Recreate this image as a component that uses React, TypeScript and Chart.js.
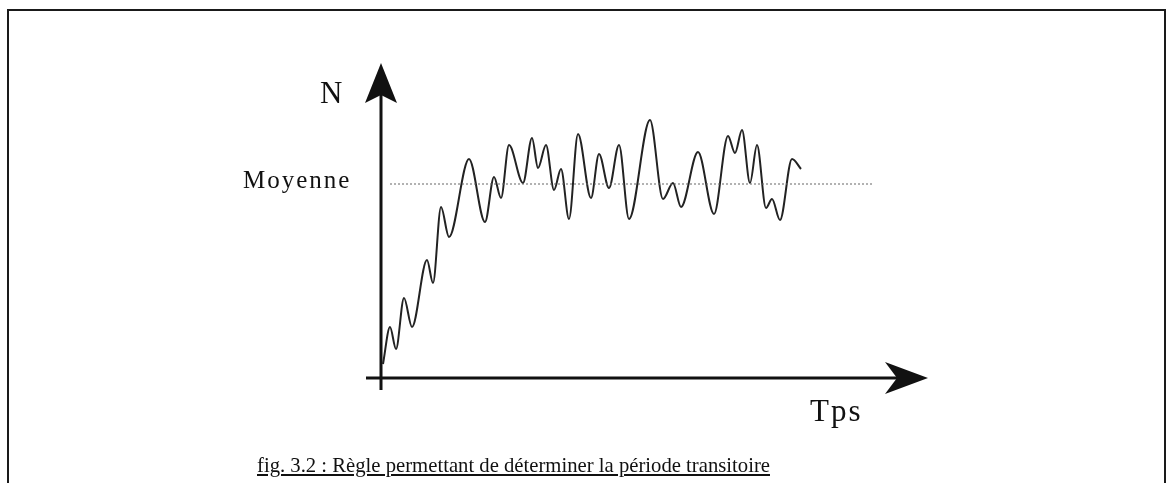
import React, { useEffect, useRef } from "react";
import { Chart, registerables } from "chart.js";

Chart.register(...registerables);

const timeValues = [2, 9, 15, 23, 31, 46, 52, 60, 68, 88, 104, 113, 120, 128, 142, 151, 157, 165, 173, 180, 188, 197, 210, 218, 228, 238, 248, 269, 282, 292, 300, 317, 333, 347, 354, 361, 369, 376, 385, 391, 399, 411, 420];
const nValues = [14, 51, 29, 80, 51, 118, 95, 171, 141, 219, 156, 201, 180, 233, 195, 240, 210, 233, 188, 209, 159, 244, 180, 224, 190, 233, 159, 258, 179, 195, 171, 226, 164, 242, 225, 248, 195, 233, 170, 179, 158, 219, 209];

// Mean level ("Moyenne") and its horizontal extent
const meanValue = 194;
const meanSpan = [9, 492];

// Axis ranges
const xMax = 547;
const yMax = 315;

const texts = {
  yLabel: "N",
  meanLabel: "Moyenne",
  xLabel: "Tps",
  caption: "fig. 3.2 : Règle permettant de déterminer la période transitoire",
};

const axesPlugin = {
  id: "arrowAxes",
  afterDatasetsDraw(chart: any) {
    const { ctx, scales } = chart;
    const xs = scales.x;
    const ys = scales.y;
    const x0 = xs.getPixelForValue(0);
    const y0 = ys.getPixelForValue(0);
    const xTip = xs.getPixelForValue(xMax);
    const yTip = ys.getPixelForValue(yMax);
    ctx.save();
    ctx.strokeStyle = "#111";
    ctx.fillStyle = "#111";
    ctx.lineWidth = 3;
    // vertical axis
    ctx.beginPath();
    ctx.moveTo(x0, y0 + 12);
    ctx.lineTo(x0, yTip + 30);
    ctx.stroke();
    // horizontal axis
    ctx.beginPath();
    ctx.moveTo(x0 - 15, y0);
    ctx.lineTo(xTip - 30, y0);
    ctx.stroke();
    // vertical arrowhead
    ctx.beginPath();
    ctx.moveTo(x0, yTip);
    ctx.lineTo(x0 + 16, yTip + 40);
    ctx.lineTo(x0, yTip + 32);
    ctx.lineTo(x0 - 16, yTip + 40);
    ctx.closePath();
    ctx.fill();
    // horizontal arrowhead
    ctx.beginPath();
    ctx.moveTo(xTip, y0);
    ctx.lineTo(xTip - 43, y0 - 16);
    ctx.lineTo(xTip - 31, y0);
    ctx.lineTo(xTip - 43, y0 + 16);
    ctx.closePath();
    ctx.fill();
    ctx.restore();
  },
};

export default function App() {
  const canvasRef = useRef<HTMLCanvasElement | null>(null);

  useEffect(() => {
    if (!canvasRef.current) return;
    const curve = timeValues.map((t, i) => ({ x: t, y: nValues[i] }));
    const mean = meanSpan.map((t) => ({ x: t, y: meanValue }));
    const chart = new Chart(canvasRef.current, {
      type: "line",
      data: {
        datasets: [
          {
            data: mean,
            borderColor: "#666",
            borderWidth: 1,
            borderDash: [2, 2],
            pointRadius: 0,
            fill: false,
          },
          {
            data: curve,
            borderColor: "#222",
            borderWidth: 2,
            pointRadius: 0,
            cubicInterpolationMode: "monotone",
            fill: false,
          },
        ],
      },
      options: {
        animation: false,
        responsive: false,
        maintainAspectRatio: false,
        events: [],
        layout: { padding: { left: 381, right: 1171 - 928, top: 63, bottom: 483 - 378 } },
        plugins: { legend: { display: false }, tooltip: { enabled: false }, title: { display: false } },
        scales: {
          x: { type: "linear", min: 0, max: xMax, display: false },
          y: { type: "linear", min: 0, max: yMax, display: false },
        },
      },
      plugins: [axesPlugin],
    });
    return () => chart.destroy();
  }, []);

  const serif = '"Liberation Serif", "Times New Roman", serif';
  const abs = (left: number, top: number, size: number, extra: React.CSSProperties = {}): React.CSSProperties => ({
    position: "absolute",
    left,
    top,
    fontFamily: serif,
    fontSize: size,
    lineHeight: 1,
    color: "#111",
    whiteSpace: "nowrap",
    ...extra,
  });

  return (
    <div style={{ position: "absolute", left: 0, top: 0, width: 1171, height: 483, overflow: "hidden", background: "#fff" }}>
      <div style={{ position: "absolute", left: 7, top: 9, width: 1159, height: 500, border: "2.5px solid #1a1a1a", boxSizing: "border-box" }} />
      <canvas ref={canvasRef} width={1171} height={483} style={{ position: "absolute", left: 0, top: 0, width: 1171, height: 483 }} />
      <div style={abs(320, 77, 31)}>{texts.yLabel}</div>
      <div style={abs(243, 167, 25, { letterSpacing: 2 })}>{texts.meanLabel}</div>
      <div style={abs(810, 395, 31, { letterSpacing: 2 })}>{texts.xLabel}</div>
      <div style={abs(257, 455, 20.7, { textDecoration: "underline" })}>{texts.caption}</div>
    </div>
  );
}
